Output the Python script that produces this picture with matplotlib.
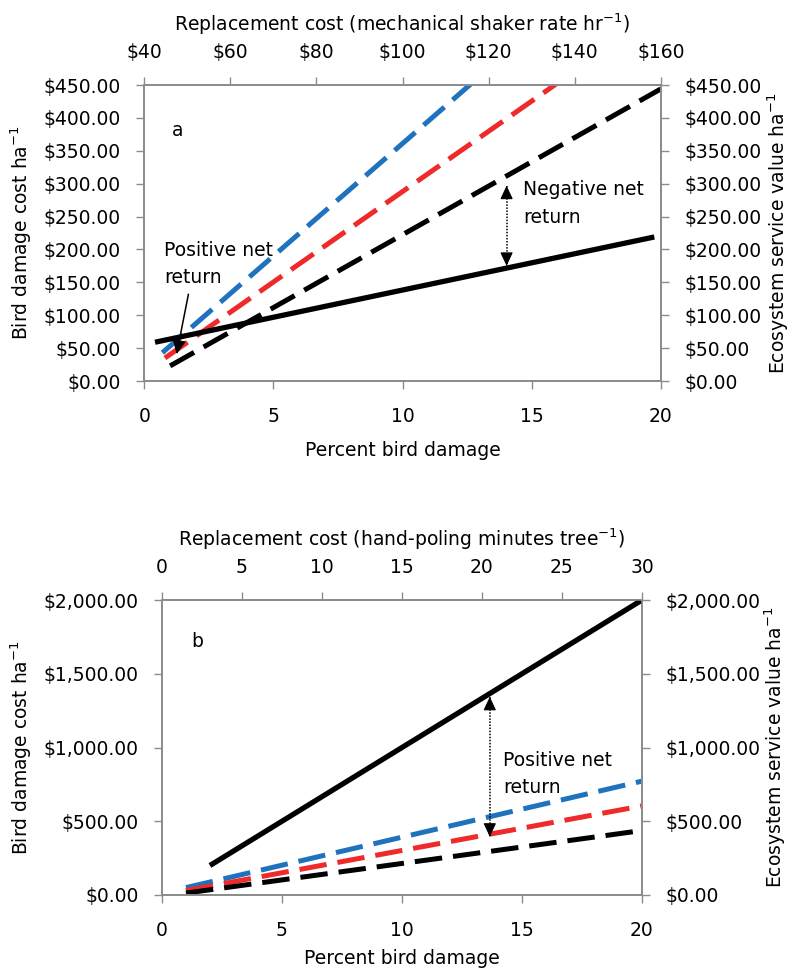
import matplotlib
matplotlib.use('Agg')
import matplotlib.pyplot as plt
from matplotlib.ticker import FuncFormatter, MultipleLocator

plt.rcParams['font.family'] = ['DejaVu Sans']
plt.rcParams['font.size'] = 13.5
plt.rcParams['mathtext.fontset'] = 'dejavusans'

# ---------------- data ----------------
# Panel a (mechanical shaker)
a_blue_pct = [0.7, 20]
a_blue_cost = [43, 703]
a_red_pct = [0.8, 20]
a_red_cost = [35, 563]
a_black_pct = [1.0, 20]
a_black_cost = [23, 444]
a_rate = [42.5, 158.5]          # replacement cost ($ per hr)
a_value = [59, 219]             # ecosystem service value

# Panel b (hand-poling)
b_blue_pct = [1, 20]
b_blue_cost = [50, 772]
b_red_pct = [1, 20]
b_red_cost = [30, 604]
b_black_pct = [1, 20]
b_black_cost = [13, 437]
b_minutes = [3, 30]             # replacement cost (minutes per tree)
b_value = [200, 2000]

BLUE = '#1f72be'
RED = '#ee2a2a'
BLACK = '#000000'
GRAY = '#8c8c8c'

fig = plt.figure(figsize=(7.94, 9.76), dpi=100)


def money(decimals, comma=False):
    def f(v, pos):
        if comma:
            return '$' + format(v, ',.%df' % decimals)
        return '$' + format(v, '.%df' % decimals)
    return FuncFormatter(f)


def style(axis_obj):
    for s in axis_obj.spines.values():
        s.set_color(GRAY)
        s.set_linewidth(1.1)
    axis_obj.tick_params(direction='out', length=5.8, width=1.0, color=GRAY,
                         pad=11, labelsize=13.5)


def panel(rect, series, top_x, top_y, ymax, ystep, yfmt, xtop_lim, xtop_step,
          xtop_fmt, top_title, yl_left, yl_right):
    ax = fig.add_axes(rect)
    style(ax)
    for x, y, c in series:
        ax.plot(x, y, color=c, lw=3.6, linestyle=(0, (5.5, 2.2)),
                dash_capstyle='butt', zorder=3)
    ax.set_xlim(0, 20)
    ax.set_ylim(0, ymax)
    ax.xaxis.set_major_locator(MultipleLocator(5))
    ax.yaxis.set_major_locator(MultipleLocator(ystep))
    ax.yaxis.set_major_formatter(yfmt)
    ax.set_xlabel('Percent bird damage')
    ax.set_ylabel(yl_left)
    ax.tick_params(axis='x', pad=13)

    axt = ax.twiny()
    style(axt)
    axt.plot(top_x, top_y, color=BLACK, lw=3.8, solid_capstyle='butt', zorder=4)
    axt.set_xlim(*xtop_lim)
    axt.xaxis.set_major_locator(MultipleLocator(xtop_step))
    axt.xaxis.set_major_formatter(xtop_fmt)
    axt.set_xlabel(top_title)

    axr = ax.twinx()
    style(axr)
    axr.set_ylim(0, ymax)
    axr.yaxis.set_major_locator(MultipleLocator(ystep))
    axr.yaxis.set_major_formatter(yfmt)
    axr.set_ylabel(yl_right)
    return ax, axt, axr


def dotted_double(ax, x, y_top, y_bot):
    ax.plot([x, x], [y_top, y_bot], color='k', lw=1.1, linestyle=(0, (1, 1)), zorder=5)
    head = dict(arrowstyle='-|>,head_length=0.6,head_width=0.28', color='k',
                lw=0.8, mutation_scale=14, shrinkA=0, shrinkB=0)
    span = (y_top - y_bot) * 0.08
    ax.annotate('', xy=(x, y_top), xytext=(x, y_top - span), arrowprops=head, zorder=6)
    ax.annotate('', xy=(x, y_bot), xytext=(x, y_bot + span), arrowprops=head, zorder=6)


# ---------------- panel a ----------------
ax_a, axt_a, axr_a = panel(
    [0.1817, 0.6096, 0.6505, 0.3033],
    [(a_blue_pct, a_blue_cost, BLUE), (a_red_pct, a_red_cost, RED),
     (a_black_pct, a_black_cost, BLACK)],
    a_rate, a_value, 450, 50, money(2), (40, 160), 20, money(0),
    'Replacement cost (mechanical shaker rate hr$^{-1}$)',
    'Bird damage cost ha$^{-1}$', 'Ecosystem service value ha$^{-1}$')
ax_a.xaxis.set_label_coords(0.5, -0.203)
axt_a.xaxis.set_label_coords(0.5, 1.182)
ax_a.yaxis.set_label_coords(-0.2135, 0.5)
axr_a.yaxis.set_label_coords(1.203, 0.5)

ax_a.text(0.065, 0.848, 'a', transform=ax_a.transAxes, ha='center', va='center')
ax_a.text(0.039, 0.395, 'Positive net\nreturn', transform=ax_a.transAxes,
          ha='left', va='center', linespacing=1.55)
ax_a.annotate('', xy=(1.25, 40.7), xytext=(1.71, 132),
              arrowprops=dict(arrowstyle='-|>,head_length=0.6,head_width=0.28',
                              color='k', lw=1.1, mutation_scale=14,
                              shrinkA=0, shrinkB=0), zorder=6)
ax_a.text(0.734, 0.60, 'Negative net\nreturn', transform=ax_a.transAxes,
          ha='left', va='center', linespacing=1.55)
dotted_double(ax_a, 14.03, 297, 175)

# ---------------- panel b ----------------
ax_b, axt_b, axr_b = panel(
    [0.2040, 0.0830, 0.6045, 0.3022],
    [(b_blue_pct, b_blue_cost, BLUE), (b_red_pct, b_red_cost, RED),
     (b_black_pct, b_black_cost, BLACK)],
    b_minutes, b_value, 2000, 500, money(2, comma=True), (0, 30), 5,
    FuncFormatter(lambda v, p: '%d' % v),
    'Replacement cost (hand-poling minutes tree$^{-1}$)',
    'Bird damage cost ha$^{-1}$', 'Ecosystem service value ha$^{-1}$')
ax_b.xaxis.set_label_coords(0.5, -0.183)
axt_b.xaxis.set_label_coords(0.5, 1.183)
ax_b.yaxis.set_label_coords(-0.2667, 0.5)
axr_b.yaxis.set_label_coords(1.252, 0.5)

ax_b.text(0.073, 0.859, 'b', transform=ax_b.transAxes, ha='center', va='center')
ax_b.text(0.710, 0.41, 'Positive net\nreturn', transform=ax_b.transAxes,
          ha='left', va='center', linespacing=1.55)
dotted_double(ax_b, 13.66, 1344, 395)

fig.savefig('out.png', dpi=100)
